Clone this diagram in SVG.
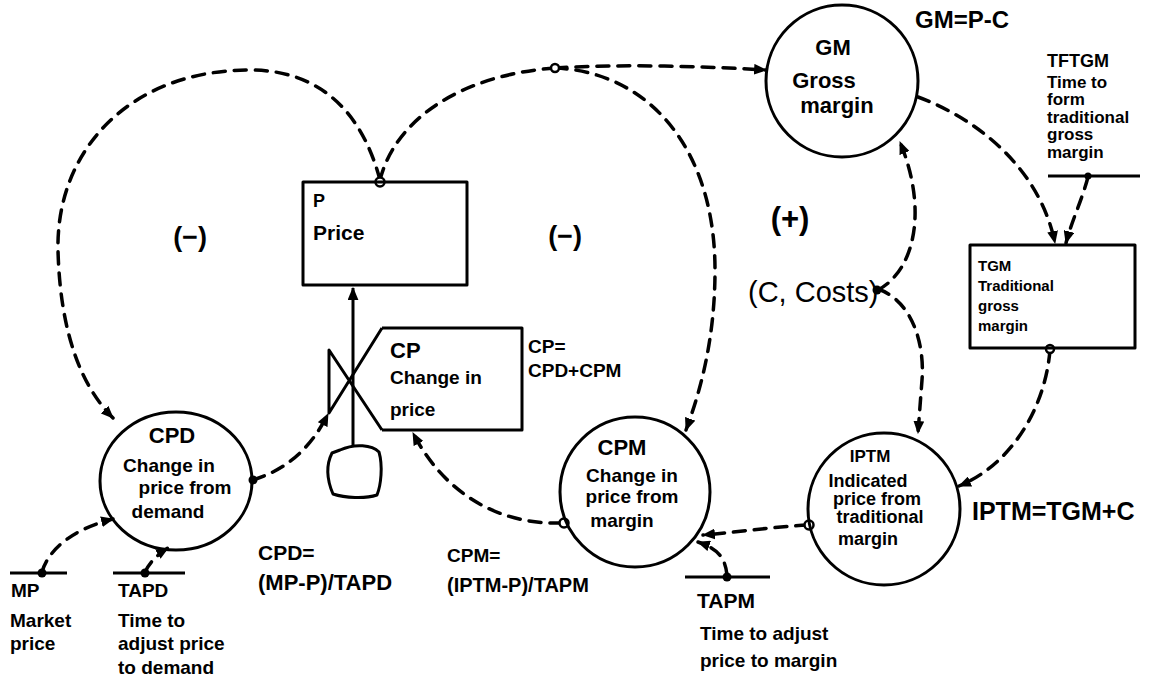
<svg xmlns="http://www.w3.org/2000/svg" width="1172" height="684" viewBox="0 0 1172 684">
<defs>
<marker id="ah" viewBox="0 0 12 10" refX="11" refY="5" markerWidth="13" markerHeight="11" markerUnits="userSpaceOnUse" orient="auto">
<path d="M0,0 L12,5 L0,10 Z" fill="#000"/>
</marker>
</defs>
<style>
.bg{fill:#fff}
.shape{fill:none;stroke:#000;stroke-width:3;stroke-linejoin:round}
.line{fill:none;stroke:#000;stroke-width:3}
.dash{fill:none;stroke:#000;stroke-width:3.5;stroke-dasharray:12 9;stroke-linecap:round}
.dot{fill:#000}
.odot{fill:#fff;stroke:#000;stroke-width:2.5}
text{font-family:"Liberation Sans","DejaVu Sans",sans-serif;font-weight:bold;fill:#000}
.t22{font-size:22px}
.t19{font-size:19px}
.t17{font-size:17px}
.t14{font-size:14px}
.mid{text-anchor:middle}
</style>
<rect class="bg" x="0" y="0" width="1172" height="684"/>

<g id="connectors">
<path class="dash" d="M380,180 C362,112 320,70 250,70 C130,70 56,150 58,250 C60,330 80,385 113,418" marker-end="url(#ah)"/>
<path class="dash" d="M380,180 C395,120 460,75 555,68"/>
<path class="dash" d="M555,68 C620,64 700,66 766,70" marker-end="url(#ah)"/>
<path class="dash" d="M555,68 C650,72 715,150 715,270 C715,340 700,392 686,430" marker-end="url(#ah)"/>
<path class="dash" d="M253,480 C285,470 310,450 328,414" marker-end="url(#ah)"/>
<path class="dash" d="M42,572 C50,545 80,527 113,519" marker-end="url(#ah)"/>
<path class="dash" d="M145,572 C150,562 158,554 168,548" marker-end="url(#ah)"/>
<path class="dash" d="M562,523 C500,525 445,495 413,433" marker-end="url(#ah)"/>
<path class="dash" d="M808,525 C770,527 740,532 703,535" marker-end="url(#ah)"/>
<path class="dash" d="M727,575 C725,555 715,548 698,542" marker-end="url(#ah)"/>
<path class="dash" d="M918,97 C980,120 1040,170 1055,243" marker-end="url(#ah)"/>
<path class="dash" d="M1088,177 C1082,200 1072,220 1066,243" marker-end="url(#ah)"/>
<path class="dash" d="M1050,350 C1045,410 1010,465 959,486" marker-end="url(#ah)"/>
<path class="dash" d="M878,289 C910,300 925,340 922,380 L918,433" marker-end="url(#ah)"/>
<path class="dash" d="M878,290 C915,270 928,210 900,142" marker-end="url(#ah)"/>
<line class="line" x1="353" y1="447" x2="353" y2="288" marker-end="url(#ah)"/>
<circle class="odot" cx="380" cy="182" r="4.5"/>
<circle class="odot" cx="555" cy="68" r="4"/>
<circle class="dot" cx="253" cy="480" r="4.5"/>
<circle class="dot" cx="42" cy="573" r="4.5"/>
<circle class="dot" cx="145" cy="573" r="4.5"/>
<circle class="odot" cx="564" cy="523" r="4.5"/>
<circle class="odot" cx="809" cy="525" r="4.5"/>
<circle class="dot" cx="727" cy="577" r="4.5"/>
<circle class="odot" cx="1050" cy="349" r="4"/>
<circle class="dot" cx="877" cy="290" r="4.5"/>
<circle class="dot" cx="1088" cy="176" r="3.5"/>
</g>

<g id="P">
<rect class="shape" x="303" y="182" width="164" height="103"/>
<text x="313" y="207" style="font-size:18px">P</text>
<text x="313" y="240" style="font-size:21px">Price</text>
</g>

<g id="CP">
<path class="shape" d="M382,328 L522,328 L522,430 L382,430"/>
<path class="shape" d="M382,328 L329,413 L329,350 L382,430"/>
<path class="shape" d="M340,450 C355,443 372,445 379,452 C383,466 381,485 377,495 C365,499 345,498 333,494 C327,480 326,465 332,453 Z"/>
<text x="390" y="358" class="t22">CP</text>
<text x="390" y="384" class="t19">Change in</text>
<text x="390" y="416" class="t19">price</text>
<text x="528" y="353" style="font-size:19px">CP=</text>
<text x="528" y="377" style="font-size:19px">CPD+CPM</text>
</g>

<g id="loops">
<text x="190" y="246" class="mid" style="font-size:27px">(−)</text>
<text x="565" y="245" class="mid" style="font-size:27px">(−)</text>
<text x="790" y="229" class="mid" style="font-size:31px">(+)</text>
</g>

<g id="CPD">
<ellipse class="shape" cx="176" cy="481" rx="76" ry="69"/>
<text x="172" y="443" class="t22 mid">CPD</text>
<text x="169" y="472" class="t19 mid">Change in</text>
<text x="185" y="494" class="t19 mid">price from</text>
<text x="168" y="518" class="t19 mid">demand</text>
<text x="258" y="560" style="font-size:21px">CPD=</text>
<text x="258" y="590" style="font-size:22px">(MP-P)/TAPD</text>
</g>

<g id="MP">
<line class="line" x1="10" y1="573" x2="67" y2="573"/>
<text x="11" y="597" class="t19">MP</text>
<text x="10" y="627" class="t19">Market</text>
<text x="10" y="650" class="t19">price</text>
</g>

<g id="TAPD">
<line class="line" x1="113" y1="573" x2="185" y2="573"/>
<text x="118" y="597" class="t19">TAPD</text>
<text x="118" y="627" class="t19">Time to</text>
<text x="118" y="650" class="t19">adjust price</text>
<text x="118" y="674" class="t19">to demand</text>
</g>

<g id="CPM">
<circle class="shape" cx="635" cy="492" r="75"/>
<text x="622" y="455" class="t22 mid">CPM</text>
<text x="632" y="482" class="t19 mid">Change in</text>
<text x="632" y="503" class="t19 mid">price from</text>
<text x="622" y="527" class="t19 mid">margin</text>
<text x="447" y="562" style="font-size:19px">CPM=</text>
<text x="447" y="592" style="font-size:20px">(IPTM-P)/TAPM</text>
</g>

<g id="TAPM">
<line class="line" x1="685" y1="577" x2="770" y2="577"/>
<text x="697" y="608" style="font-size:21px">TAPM</text>
<text x="700" y="640" class="t19">Time to adjust</text>
<text x="700" y="667" class="t19">price to margin</text>
</g>

<g id="IPTM">
<circle class="shape" cx="884" cy="509" r="76"/>
<text x="870" y="462" class="t17 mid">IPTM</text>
<text x="868" y="487" style="font-size:18px" class="mid">Indicated</text>
<text x="877" y="505" style="font-size:18px" class="mid">price from</text>
<text x="880" y="523" style="font-size:18px" class="mid">traditional</text>
<text x="868" y="545" style="font-size:18px" class="mid">margin</text>
<text x="972" y="520" style="font-size:25px">IPTM=TGM+C</text>
</g>

<g id="C">
<text x="748" y="302" style="font-size:29px;font-weight:normal">(C, Costs)</text>
</g>

<g id="GM">
<circle class="shape" cx="842" cy="81" r="76"/>
<text x="833" y="55" class="t22 mid">GM</text>
<text x="824" y="88" class="t22 mid">Gross</text>
<text x="837" y="113" class="t22 mid">margin</text>
<text x="915" y="28" style="font-size:24px">GM=P-C</text>
</g>

<g id="TFTGM">
<line class="line" x1="1048" y1="176" x2="1140" y2="176"/>
<text x="1047" y="67" style="font-size:18px">TFTGM</text>
<text x="1047" y="88" class="t17">Time to</text>
<text x="1047" y="105" class="t17">form</text>
<text x="1047" y="123" class="t17">traditional</text>
<text x="1047" y="140" class="t17">gross</text>
<text x="1047" y="158" class="t17">margin</text>
</g>

<g id="TGM">
<rect class="shape" x="970" y="245" width="165" height="103"/>
<text x="978" y="271" style="font-size:15px">TGM</text>
<text x="978" y="291" style="font-size:15px">Traditional</text>
<text x="978" y="311" style="font-size:15px">gross</text>
<text x="978" y="331" style="font-size:15px">margin</text>
</g>
</svg>
